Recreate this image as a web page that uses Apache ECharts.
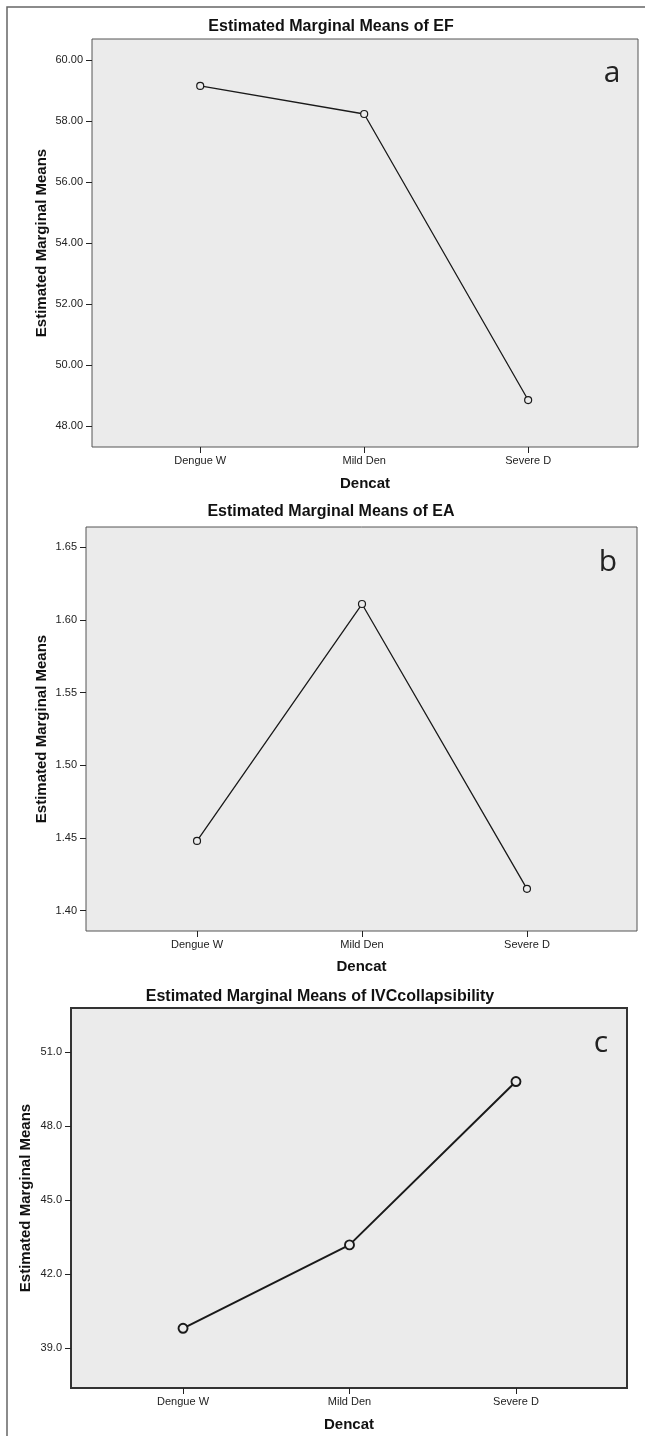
<!DOCTYPE html>
<html>
<head>
<meta charset="utf-8">
<title>Estimated Marginal Means</title>
<script src="https://cdn.jsdelivr.net/npm/echarts@6/dist/echarts.min.js"></script>
<style>
    html, body { margin: 0; padding: 0; background: #fff; }
    #main { width: 645px; height: 1436px; }
</style>
</head>
<body>
<div id="main"></div>
<script>
var categories = ['Dengue W', 'Mild Den', 'Severe D'];
var catIndex = [0, 1, 2];

// a: EF
var efMeans = [59.15, 58.23, 48.85];
var efTicks = [48, 50, 52, 54, 56, 58, 60];
// b: EA
var eaMeans = [1.448, 1.611, 1.415];
var eaTicks = [1.40, 1.45, 1.50, 1.55, 1.60, 1.65];
// c: IVC collapsibility
var ivcMeans = [39.8, 43.18, 49.8];
var ivcTicks = [39, 42, 45, 48, 51];

var titles = ['Estimated Marginal Means of EF', 'Estimated Marginal Means of EA', 'Estimated Marginal Means of IVCcollapsibility'];
var letters = ['a', 'b', 'c'];
var yName = 'Estimated Marginal Means';
var xName = 'Dencat';

var means = [efMeans, eaMeans, ivcMeans];
var ticks = [efTicks, eaTicks, ivcTicks];

// layout of the three SPSS panels
var panels = [
    {grid: {left: 92, top: 39, width: 546, height: 408}, xRange: [-0.66, 2.67], yRange: [47.31, 60.69], digits: 2,
        titleX: 331, titleY: 27, letterX: 612, letterY: 73, yNameGap: 43, xNameGap: 29, border: 1, borderColor: '#555', line: 1.3, symbol: 7},
    {grid: {left: 86, top: 527, width: 551, height: 404}, xRange: [-0.673, 2.667], yRange: [1.386, 1.664], digits: 2,
        titleX: 331, titleY: 512, letterX: 608, letterY: 562, yNameGap: 37, xNameGap: 28, border: 1, borderColor: '#555', line: 1.3, symbol: 7},
    {grid: {left: 71, top: 1008, width: 556, height: 380}, xRange: [-0.673, 2.667], yRange: [37.38, 52.78], digits: 1,
        titleX: 320, titleY: 997, letterX: 601, letterY: 1043, yNameGap: 38, xNameGap: 29, border: 2, borderColor: '#333', line: 2, symbol: 9}
];

var font = '"Liberation Sans", Arial, sans-serif';

var option = {
    animation: false,
    backgroundColor: '#fff',
    grid: [],
    xAxis: [],
    yAxis: [],
    series: [],
    graphic: []
};

// outer frame of the figure
option.graphic.push({
    type: 'rect',
    shape: {x: 7, y: 7, width: 660, height: 1460},
    style: {fill: 'none', stroke: '#666', lineWidth: 1.5},
    silent: true
});

panels.forEach(function (p, i) {
    option.grid.push($extend({
        show: true,
        backgroundColor: '#ebebeb',
        borderColor: p.borderColor,
        borderWidth: p.border
    }, p.grid));

    option.xAxis.push({
        type: 'value',
        gridIndex: i,
        min: p.xRange[0],
        max: p.xRange[1],
        name: xName,
        nameLocation: 'middle',
        nameGap: p.xNameGap,
        nameMoveOverlap: false,
        nameTextStyle: {fontFamily: font, fontWeight: 'bold', fontSize: 15, color: '#111'},
        axisLine: {show: false, onZero: false},
        splitLine: {show: false},
        axisTick: {show: true, length: 6, customValues: catIndex, lineStyle: {color: '#222', width: 1}},
        axisLabel: {
            customValues: catIndex,
            margin: 8,
            fontFamily: font,
            fontSize: 11,
            color: '#222',
            formatter: function (v) {
                return categories[Math.round(v)];
            }
        }
    });

    option.yAxis.push({
        type: 'value',
        gridIndex: i,
        min: p.yRange[0],
        max: p.yRange[1],
        name: yName,
        nameLocation: 'middle',
        nameGap: p.yNameGap,
        nameMoveOverlap: false,
        nameTextStyle: {fontFamily: font, fontWeight: 'bold', fontSize: 15, color: '#111'},
        axisLine: {show: false, onZero: false},
        splitLine: {show: false},
        axisTick: {show: true, length: 6, customValues: ticks[i], lineStyle: {color: '#222', width: 1}},
        axisLabel: {
            customValues: ticks[i],
            margin: 9,
            fontFamily: font,
            fontSize: 11,
            color: '#222',
            formatter: function (v) {
                return v.toFixed(p.digits);
            }
        }
    });

    option.series.push({
        type: 'line',
        xAxisIndex: i,
        yAxisIndex: i,
        data: catIndex.map(function (c) { return [c, means[i][c]]; }),
        symbol: 'circle',
        symbolSize: p.symbol,
        lineStyle: {color: '#1a1a1a', width: p.line},
        itemStyle: {color: '#ebebeb', borderColor: '#1a1a1a', borderWidth: p.line - 0.1},
        emphasis: {disabled: true},
        z: 3
    });

    option.graphic.push({
        type: 'text',
        x: p.titleX,
        y: p.titleY,
        silent: true,
        style: {
            text: titles[i],
            font: 'bold 16px ' + font,
            fill: '#111',
            align: 'center', textAlign: 'center',
            verticalAlign: 'middle', textVerticalAlign: 'middle'
        }
    });

    option.graphic.push({
        type: 'text',
        x: p.letterX,
        y: p.letterY,
        silent: true,
        z: 10,
        style: {
            text: letters[i],
            font: '30px "Open Sans", "Noto Sans", sans-serif',
            fill: '#222',
            align: 'center', textAlign: 'center',
            verticalAlign: 'middle', textVerticalAlign: 'middle'
        }
    });
});

function $extend(a, b) {
    for (var k in b) {
        a[k] = b[k];
    }
    return a;
}

var chart = echarts.init(document.getElementById('main'));
chart.setOption(option);
</script>
</body>
</html>
